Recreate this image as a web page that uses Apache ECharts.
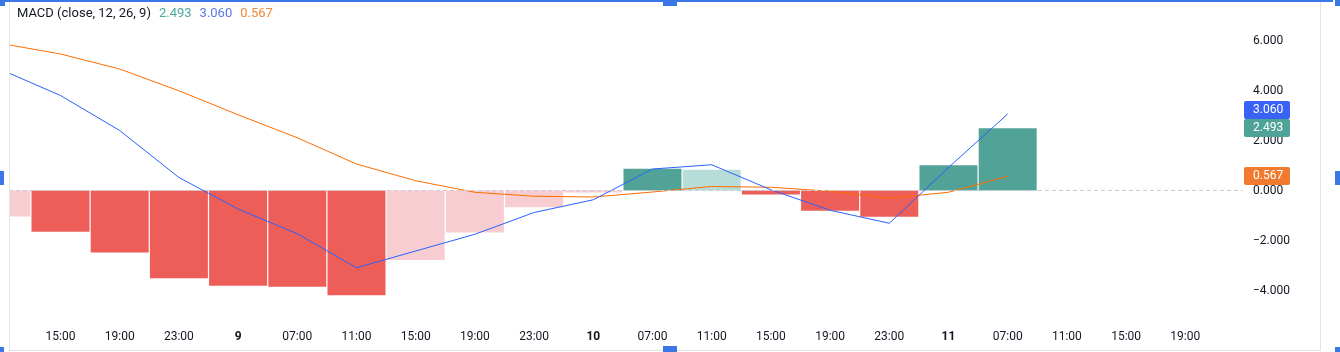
<!DOCTYPE html>
<html>
<head>
<meta charset="utf-8">
<title>MACD</title>
<script src="https://cdn.jsdelivr.net/npm/echarts@6/dist/echarts.min.js"></script>
<style>
  html, body { margin: 0; padding: 0; background: #ffffff; }
  #main { width: 1340px; height: 352px; }
</style>
</head>
<body>
<div id="main"></div>
<script>
// time axis labels, one per 4h bar (bar 0 is cut off on the left)
const timeLabels = ["11:00", "15:00", "19:00", "23:00", "9", "07:00", "11:00", "15:00", "19:00", "23:00",
  "10", "07:00", "11:00", "15:00", "19:00", "23:00", "11", "07:00", "11:00", "15:00", "19:00", "23:00"];

const histValues = [-1.04, -1.65, -2.48, -3.51, -3.81, -3.85, -4.19, -2.78, -1.68, -0.67, -0.08,
  0.87, 0.83, -0.16, -0.81, -1.05, 1.01, 2.493];
const macdValues = [4.83, 3.80, 2.40, 0.52, -0.74, -1.73, -3.09, -2.42, -1.75, -0.88, -0.37,
  0.86, 1.03, 0.03, -0.79, -1.31, 0.92, 3.060];
const signalValues = [5.88, 5.46, 4.86, 3.99, 3.03, 2.11, 1.06, 0.39, -0.07, -0.23, -0.26,
  -0.06, 0.16, 0.13, -0.03, -0.31, -0.07, 0.567];

const FONT = "Roboto, 'Noto Sans', sans-serif";
const TEXT = "#131722";
const MACD_COLOR = "#2962ff";
const SIGNAL_COLOR = "#ff6d00";
const colors = {
  upStrong: "#52a397",
  upWeak: "#b8ddd8",
  downWeak: "#f7cdd2",
  downStrong: "#ee5e58",
};

const histColor = (i) => {
  const v = histValues[i];
  const prev = i > 0 ? histValues[i - 1] : -Infinity;
  if (v >= 0) return v > prev ? colors.upStrong : colors.upWeak;
  return v > prev ? colors.downWeak : colors.downStrong;
};

const last = histValues.length - 1;
const fmt = (v) => v.toFixed(3);

const chart = echarts.init(document.getElementById("main"), null, { renderer: "canvas" });

const option = {
  animation: false,
  backgroundColor: "#ffffff",
  textStyle: { fontFamily: FONT },
  title: {
    left: 12,
    top: 2,
    text:
      "{n|MACD (close, 12, 26, 9)}{h|" + fmt(histValues[last]) + "}{m|" + fmt(macdValues[last]) +
      "}{s|" + fmt(signalValues[last]) + "}",
    textStyle: {
      fontWeight: "normal",
      rich: {
        n: { color: TEXT, fontSize: 13, fontFamily: FONT, fontWeight: "normal" },
        h: { color: "#4ca89b", fontSize: 13, fontFamily: FONT, fontWeight: "normal", padding: [0, 0, 0, 8] },
        m: { color: "#5a78ea", fontSize: 13, fontFamily: FONT, fontWeight: "normal", padding: [0, 0, 0, 8] },
        s: { color: "#f0883a", fontSize: 13, fontFamily: FONT, fontWeight: "normal", padding: [0, 0, 0, 8] },
      },
    },
  },
  grid: {
    left: 9,
    right: 97,
    top: 15.5,
    bottom: 36.5,
    containLabel: false,
    outerBoundsMode: "none",
  },
  xAxis: {
    type: "value",
    min: 0.13,
    max: 20.975,
    minInterval: 1,
    maxInterval: 1,
    splitLine: { show: false },
    axisLine: { show: false },
    axisTick: { show: false },
    axisLabel: {
      showMinLabel: false,
      showMaxLabel: false,
      margin: 15,
      color: TEXT,
      fontSize: 12,
      fontFamily: FONT,
      formatter: (v) => {
        if (!Number.isInteger(v)) return "";
        const s = timeLabels[v];
        if (s === undefined) return "";
        return s.indexOf(":") >= 0 ? s : "{b|" + s + "}";
      },
      rich: {
        b: { color: TEXT, fontSize: 12, fontFamily: FONT, fontWeight: "bold" },
      },
    },
  },
  yAxis: {
    type: "value",
    position: "right",
    min: -5,
    max: 7,
    splitNumber: 6,
    scale: true,
    splitLine: { show: false },
    axisLine: { show: false },
    axisTick: { show: false },
    axisLabel: {
      showMinLabel: false,
      showMaxLabel: false,
      margin: 10,
      color: TEXT,
      fontSize: 12,
      fontFamily: FONT,
      formatter: (v) => (v < 0 ? "\u2212" + Math.abs(v).toFixed(3) : v.toFixed(3)),
    },
  },
  series: [
    {
      name: "Histogram",
      type: "bar",
      barWidth: 58,
      clip: true,
      data: histValues.map((v, i) => [i, v]),
      itemStyle: { color: (p) => histColor(p.dataIndex) },
      markLine: {
        silent: true,
        symbol: "none",
        label: { show: false },
        lineStyle: { color: "#c9ccd3", width: 1, type: [4, 3] },
        data: [{ yAxis: 0 }],
      },
      z: 2,
    },
    {
      name: "MACD",
      type: "line",
      data: macdValues.map((v, i) => [i, v]),
      showSymbol: false,
      lineStyle: { color: MACD_COLOR, width: 1 },
      z: 4,
    },
    {
      name: "Signal",
      type: "line",
      data: signalValues.map((v, i) => [i, v]),
      showSymbol: false,
      lineStyle: { color: SIGNAL_COLOR, width: 1 },
      z: 3,
    },
  ],
};

chart.setOption(option);

// price tags on the right scale, stacked so they do not overlap
const TAG_H = 18;
const tags = [
  { value: macdValues[last], color: "#3a63f5" },
  { value: histValues[last], color: "#4fa396" },
  { value: signalValues[last], color: "#f07a30" },
].map((t) => ({ ...t, y: chart.convertToPixel({ yAxisIndex: 0 }, t.value) }));
tags.sort((a, b) => a.y - b.y);
for (let i = tags.length - 2; i >= 0; i--) {
  if (tags[i].y + TAG_H > tags[i + 1].y) tags[i].y = tags[i + 1].y - TAG_H;
}

const frame = "#e0e3eb";
const handle = "#3b78e7";
const graphic = [
  // bars on a value axis are not cut at the grid edge, so mask the strip left of the pane
  { type: "rect", shape: { x: 0, y: 0, width: 9, height: 322 }, style: { fill: "#ffffff" }, z: 9 },
  // pane frame
  { type: "line", shape: { x1: 9.5, y1: 0, x2: 9.5, y2: 350 }, style: { stroke: frame, lineWidth: 1 }, z: 10 },
  { type: "line", shape: { x1: 9, y1: 350.5, x2: 1320, y2: 350.5 }, style: { stroke: frame, lineWidth: 1 }, z: 10 },
  { type: "line", shape: { x1: 1320.5, y1: 0, x2: 1320.5, y2: 351 }, style: { stroke: frame, lineWidth: 1 }, z: 10 },
  // selection handles
  { type: "rect", shape: { x: 0, y: 0, width: 1333, height: 2 }, style: { fill: handle }, z: 20 },
  { type: "rect", shape: { x: 0, y: 0, width: 5, height: 6 }, style: { fill: handle }, z: 20 },
  { type: "rect", shape: { x: 663, y: 0, width: 14, height: 6 }, style: { fill: handle }, z: 20 },
  { type: "rect", shape: { x: 1335, y: 0, width: 5, height: 6 }, style: { fill: handle }, z: 20 },
  { type: "rect", shape: { x: 0, y: 171, width: 4, height: 14 }, style: { fill: handle }, z: 20 },
  { type: "rect", shape: { x: 1335, y: 171, width: 5, height: 14 }, style: { fill: handle }, z: 20 },
  { type: "rect", shape: { x: 0, y: 347, width: 4, height: 5 }, style: { fill: handle }, z: 20 },
  { type: "rect", shape: { x: 663, y: 346, width: 14, height: 6 }, style: { fill: handle }, z: 20 },
  { type: "rect", shape: { x: 1335, y: 347, width: 5, height: 5 }, style: { fill: handle }, z: 20 },
];
tags.forEach((t) => {
  const top = Math.round(t.y - TAG_H / 2);
  graphic.push({
    type: "rect",
    shape: { x: 1244, y: top, width: 46, height: TAG_H, r: 2 },
    style: { fill: t.color },
    z: 30,
  });
  graphic.push({
    type: "text",
    x: 1253,
    y: top + TAG_H / 2,
    style: {
      text: fmt(t.value),
      fill: "#ffffff",
      font: "12px " + FONT,
      verticalAlign: "middle",
      align: "left",
    },
    z: 31,
  });
});

chart.setOption({ graphic: graphic });
</script>
</body>
</html>
